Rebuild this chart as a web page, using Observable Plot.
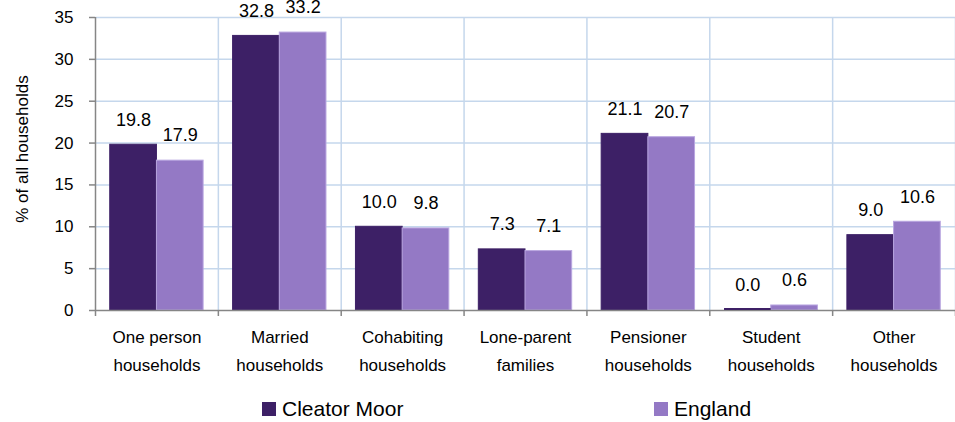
<!DOCTYPE html>
<html>
<head>
<meta charset="utf-8">
<script src="https://cdn.jsdelivr.net/npm/d3@7"></script>
<script src="https://cdn.jsdelivr.net/npm/@observablehq/plot@0.6"></script>
<style>
  html, body { margin: 0; padding: 0; background: #fff; }
  body { width: 955px; height: 422px; overflow: hidden; font-family: "Liberation Sans", Arial, sans-serif; }
  #chart svg { display: block; }
  #legend { position: relative; width: 955px; height: 37px; font-size: 21px; color: #000; }
  .item { position: absolute; top: 5px; display: flex; align-items: center; height: 37px; }
  .sw { width: 14px; height: 14px; margin-right: 6px; }
</style>
</head>
<body>
<div id="chart"></div>
<div id="legend"></div>
<script>
const categories = ["One person households", "Married households", "Cohabiting households", "Lone-parent families", "Pensioner households", "Student households", "Other households"];
const categoryLines = [["One person", "households"], ["Married", "households"], ["Cohabiting", "households"], ["Lone-parent", "families"], ["Pensioner", "households"], ["Student", "households"], ["Other", "households"]];
const seriesNames = ["Cleator Moor", "England"];
const cleatorMoor = [19.8, 32.8, 10.0, 7.3, 21.1, 0.0, 9.0];
const england = [17.9, 33.2, 9.8, 7.1, 20.7, 0.6, 10.6];
const yTicks = [0, 5, 10, 15, 20, 25, 30, 35];
const colors = ["#3d2066", "#9479c5"];

const seriesValues = [cleatorMoor, england];
const rows = [];
categories.forEach((c, i) => {
  seriesNames.forEach((s, k) => rows.push({i, category: c, series: s, k, value: seriesValues[k][i]}));
});
const x1 = d => d.i + (d.k === 0 ? 0.12 : 0.5);
const x2 = d => d.i + (d.k === 0 ? 0.5 : 0.88);
const xc = d => (x1(d) + x2(d)) / 2;
const boundaries = d3.range(0, categories.length + 1);
const grid = "#c5d7ec";
const axisGray = "#868686";

const chart = Plot.plot({
  width: 955,
  height: 385,
  marginLeft: 95,
  marginRight: 0,
  marginTop: 17,
  marginBottom: 75,
  style: {fontFamily: "'Liberation Sans', Arial, sans-serif", background: "#fff"},
  x: {type: "linear", domain: [0, categories.length], axis: null},
  y: {domain: [0, 35], axis: null},
  marks: [
    Plot.ruleY(yTicks.slice(1), {stroke: grid, strokeWidth: 1.5}),
    Plot.ruleX(boundaries.slice(1), {stroke: grid, strokeWidth: 1.5}),
    Plot.rectY(rows, {x1, x2, y: "value", fill: d => colors[d.k], stroke: d => d.k === 0 ? colors[0] : "#b9a6e0", strokeWidth: 1}),
    Plot.text(rows, {x: xc, y: "value", text: d => d.value.toFixed(1), dy: -25, fontSize: 18, fill: "#000"}),
    Plot.ruleX([0], {stroke: axisGray, strokeWidth: 1.5}),
    Plot.ruleY([0], {stroke: axisGray, strokeWidth: 1.5}),
    Plot.ruleY(rows.filter(d => d.value === 0), {x1, x2, y: "value", stroke: d => colors[d.k], strokeWidth: 2, dy: -1.5}),
    Plot.axisY({ticks: yTicks, tickSize: 6, tickPadding: 16, fontSize: 17, stroke: axisGray, strokeWidth: 1.5, fill: "#000", label: null}),
    Plot.axisX({ticks: boundaries, tickSize: 6, tickFormat: () => "", stroke: axisGray, strokeWidth: 1.5, label: null}),
    Plot.text(categoryLines, {x: (d, i) => i + 0.5, y: () => 0, text: d => d.join("\n"), lineAnchor: "top", lineHeight: 1.65, dy: 13, fontSize: 17, fill: "#000"}),
    Plot.text(["% of all households"], {frameAnchor: "left", textAnchor: "middle", rotate: -90, dx: -73, dy: -15, fontSize: 17, fill: "#000"})
  ]
});
document.getElementById("chart").appendChild(chart);

const legend = document.getElementById("legend");
const legendX = [262, 654];
seriesNames.forEach((s, k) => {
  const item = document.createElement("div");
  item.className = "item";
  item.style.left = legendX[k] + "px";
  item.innerHTML = `<span class="sw" style="background:${colors[k]}"></span><span>${s}</span>`;
  legend.appendChild(item);
});
</script>
</body>
</html>
